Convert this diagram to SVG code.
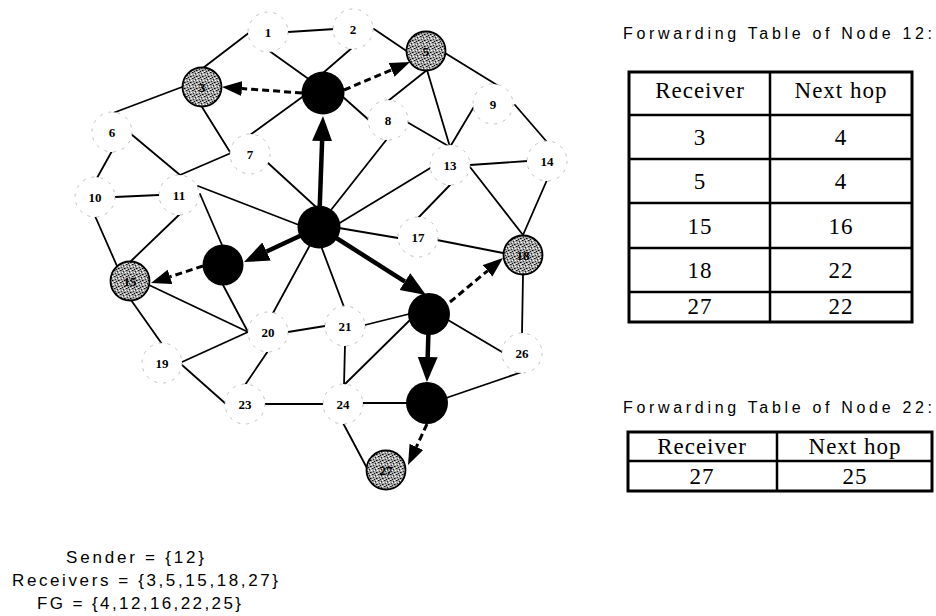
<svg xmlns="http://www.w3.org/2000/svg" width="936" height="616" viewBox="0 0 936 616">
  <style>
    .edge { stroke:#000; stroke-width:1.8; fill:none; stroke-linecap:round; }
    .route { stroke:#000; stroke-width:4.5; fill:none; marker-end:url(#head-solid); }
    .probe { stroke:#000; stroke-width:3; fill:none; stroke-dasharray:7 4; marker-end:url(#head-dash); }
    .plain circle { fill:#fff; stroke:#b8b8b8; stroke-width:0.9; stroke-dasharray:3 6; }
    .fwd circle { fill:#000; }
    .recv circle { fill:url(#speckle); stroke:#000; stroke-width:1.8; }
    .lbl { font-family:"Liberation Serif", serif; font-weight:bold; font-size:13px; text-anchor:middle; fill:#000; }
    .title { font-family:"Liberation Sans", sans-serif; font-size:16px; fill:#000; }
    .cell { font-family:"Liberation Serif", serif; font-size:23px; text-anchor:middle; fill:#000; letter-spacing:1px; }
    .grid { stroke:#000; stroke-width:2.5; fill:none; }
    .frame { stroke:#000; stroke-width:3; fill:none; }
    .note { font-family:"Liberation Sans", sans-serif; font-size:17px; fill:#000; }
  </style>
  <defs>
    <marker id="head-solid" viewBox="0 -11 27 22" refX="0" refY="0" markerWidth="27" markerHeight="22" markerUnits="userSpaceOnUse" orient="auto">
      <path d="M0,-10 L25,0 L0,10 Z" fill="#000"/>
    </marker>
    <marker id="head-dash" viewBox="0 -8 22 16" refX="0" refY="0" markerWidth="22" markerHeight="16" markerUnits="userSpaceOnUse" orient="auto">
      <path d="M0,-7.5 L20,0 L0,7.5 Z" fill="#000"/>
    </marker>
    <!-- mottled grey used for receiver nodes -->
    <pattern id="speckle" width="6" height="6" patternUnits="userSpaceOnUse">
      <rect width="6" height="6" fill="#a8a8a8"/>
      <rect x="0" y="0" width="1.5" height="1" fill="#111"/>
      <rect x="3" y="1" width="1" height="1.5" fill="#222"/>
      <rect x="4" y="4" width="1.5" height="1" fill="#000"/>
      <rect x="1" y="3" width="1" height="1" fill="#333"/>
      <rect x="2" y="5" width="1" height="1" fill="#111"/>
      <rect x="4" y="0" width="1" height="1" fill="#fff"/>
      <rect x="5" y="2" width="1" height="1" fill="#fff"/>
      <rect x="0" y="5" width="1" height="1" fill="#eee"/>
      <rect x="2" y="2" width="1" height="1" fill="#fff"/>
    </pattern>
  </defs>

  <!-- links and forwarding paths -->
  <g id="connectors">
    <path class="edge" d="M288,32 L335,29"/>
    <path class="edge" d="M203,68 L250,32"/>
    <path class="edge" d="M268,50 L310,80"/>
    <path class="edge" d="M353,47 L323,73"/>
    <path class="edge" d="M374,29 L408,52"/>
    <path class="edge" d="M182,87 L113,113"/>
    <path class="edge" d="M202,107 L230,152"/>
    <path class="edge" d="M250,135 L305,95"/>
    <path class="edge" d="M343,97 L370,121"/>
    <path class="edge" d="M427,70 L388,101"/>
    <path class="edge" d="M427,70 L450,147"/>
    <path class="edge" d="M445,53 L497,85"/>
    <path class="edge" d="M475,105 L450,147"/>
    <path class="edge" d="M515,105 L547,142"/>
    <path class="edge" d="M407,122 L450,147"/>
    <path class="edge" d="M470,165 L528,161"/>
    <path class="edge" d="M470,167 L523,235"/>
    <path class="edge" d="M547,180 L523,235"/>
    <path class="edge" d="M450,185 L418,218"/>
    <path class="edge" d="M432,167 L338,224"/>
    <path class="edge" d="M387,139 L331,210"/>
    <path class="edge" d="M268,163 L316,207"/>
    <path class="edge" d="M339,228 L398,238"/>
    <path class="edge" d="M437,240 L503,253"/>
    <path class="edge" d="M523,275 L522,334"/>
    <path class="edge" d="M448,320 L502,352"/>
    <path class="edge" d="M310,245 L273,313"/>
    <path class="edge" d="M321,246 L344,307"/>
    <path class="edge" d="M198,186 L299,225"/>
    <path class="edge" d="M200,194 L222,245"/>
    <path class="edge" d="M181,213 L130,262"/>
    <path class="edge" d="M115,197 L159,195"/>
    <path class="edge" d="M95,216 L117,266"/>
    <path class="edge" d="M112,151 L97,178"/>
    <path class="edge" d="M131,134 L180,175"/>
    <path class="edge" d="M231,153 L180,175"/>
    <path class="edge" d="M223,285 L248,332"/>
    <path class="edge" d="M149,285 L248,332"/>
    <path class="edge" d="M131,300 L162,344"/>
    <path class="edge" d="M182,362 L248,332"/>
    <path class="edge" d="M182,365 L226,404"/>
    <path class="edge" d="M288,332 L325,326"/>
    <path class="edge" d="M268,351 L245,385"/>
    <path class="edge" d="M345,345 L344,385"/>
    <path class="edge" d="M410,320 L344,385"/>
    <path class="edge" d="M365,325 L409,314"/>
    <path class="edge" d="M264,404 L324,404"/>
    <path class="edge" d="M362,403 L407,403"/>
    <path class="edge" d="M446,398 L522,372"/>
    <path class="edge" d="M343,423 L368,470"/>

    <!-- forwarding group tree (solid) -->
    <path class="route" d="M319,227 L322.1,141"/>
    <path class="route" d="M319,227 L266.6,251.5"/>
    <path class="route" d="M319,227 L404.9,281.6"/>
    <path class="route" d="M429,314 L427.7,357"/>

    <!-- delivery to receivers (dashed) -->
    <path class="probe" d="M302,93 L241.9,88.5"/>
    <path class="probe" d="M344,90 L391.6,69.8"/>
    <path class="probe" d="M203,266 L170,276.8"/>
    <path class="probe" d="M450,302 L487.6,270.8"/>
    <path class="probe" d="M427,424 L416.4,446.9"/>
  </g>

  <!-- ordinary nodes -->
  <g id="node-1" class="plain"><circle cx="268" cy="32" r="20"/><text class="lbl" x="268" y="37">1</text></g>
  <g id="node-2" class="plain"><circle cx="353" cy="29" r="20"/><text class="lbl" x="353" y="34">2</text></g>
  <g id="node-6" class="plain"><circle cx="112" cy="132" r="20"/><text class="lbl" x="112" y="137">6</text></g>
  <g id="node-7" class="plain"><circle cx="250" cy="154" r="20"/><text class="lbl" x="250" y="159">7</text></g>
  <g id="node-8" class="plain"><circle cx="388" cy="120" r="20"/><text class="lbl" x="388" y="125">8</text></g>
  <g id="node-9" class="plain"><circle cx="493" cy="104" r="20"/><text class="lbl" x="493" y="109">9</text></g>
  <g id="node-10" class="plain"><circle cx="95" cy="197" r="20"/><text class="lbl" x="95" y="202">10</text></g>
  <g id="node-11" class="plain"><circle cx="179" cy="195" r="20"/><text class="lbl" x="179" y="200">11</text></g>
  <g id="node-13" class="plain"><circle cx="450" cy="165" r="20"/><text class="lbl" x="450" y="170">13</text></g>
  <g id="node-14" class="plain"><circle cx="547" cy="161" r="20"/><text class="lbl" x="547" y="166">14</text></g>
  <g id="node-17" class="plain"><circle cx="418" cy="237" r="20"/><text class="lbl" x="418" y="242">17</text></g>
  <g id="node-19" class="plain"><circle cx="162" cy="363" r="20"/><text class="lbl" x="162" y="368">19</text></g>
  <g id="node-20" class="plain"><circle cx="268" cy="332" r="20"/><text class="lbl" x="268" y="337">20</text></g>
  <g id="node-21" class="plain"><circle cx="345" cy="326" r="20"/><text class="lbl" x="345" y="331">21</text></g>
  <g id="node-23" class="plain"><circle cx="245" cy="404" r="20"/><text class="lbl" x="245" y="409">23</text></g>
  <g id="node-24" class="plain"><circle cx="343" cy="404" r="20"/><text class="lbl" x="343" y="409">24</text></g>
  <g id="node-26" class="plain"><circle cx="522" cy="353" r="20"/><text class="lbl" x="522" y="358">26</text></g>

  <!-- forwarding group members -->
  <g id="node-4" class="fwd"><circle cx="323" cy="93" r="21.5"/></g>
  <g id="node-12" class="fwd"><circle cx="319" cy="227" r="21.5"/></g>
  <g id="node-16" class="fwd"><circle cx="223" cy="265" r="20.5"/></g>
  <g id="node-22" class="fwd"><circle cx="429" cy="314" r="21"/></g>
  <g id="node-25" class="fwd"><circle cx="427" cy="403" r="21"/></g>

  <!-- receivers -->
  <g id="node-3" class="recv"><circle cx="202" cy="87" r="19.5"/><text class="lbl" x="202" y="92">3</text></g>
  <g id="node-5" class="recv"><circle cx="426" cy="51" r="19.5"/><text class="lbl" x="426" y="56">5</text></g>
  <g id="node-15" class="recv"><circle cx="130" cy="281" r="19.5"/><text class="lbl" x="130" y="286">15</text></g>
  <g id="node-18" class="recv"><circle cx="523" cy="255" r="19.5"/><text class="lbl" x="523" y="260">18</text></g>
  <g id="node-27" class="recv"><circle cx="386" cy="470" r="19.5"/><text class="lbl" x="386" y="475">27</text></g>

  <!-- forwarding table of node 12 -->
  <g id="table-12">
    <text class="title" x="623" y="39" textLength="309" lengthAdjust="spacing">Forwarding Table of Node 12:</text>
    <rect class="frame" x="629" y="72" width="283" height="250"/>
    <path class="grid" d="M770,72 V322 M629,115 H912 M629,159 H912 M629,203 H912 M629,248 H912 M629,292 H912"/>
    <text class="cell" x="700" y="98">Receiver</text>
    <text class="cell" x="841" y="98">Next hop</text>
    <text class="cell" x="700" y="145">3</text>
    <text class="cell" x="841" y="145">4</text>
    <text class="cell" x="700" y="189">5</text>
    <text class="cell" x="841" y="189">4</text>
    <text class="cell" x="700" y="234">15</text>
    <text class="cell" x="841" y="234">16</text>
    <text class="cell" x="700" y="278">18</text>
    <text class="cell" x="841" y="278">22</text>
    <text class="cell" x="700" y="314">27</text>
    <text class="cell" x="841" y="314">22</text>
  </g>

  <!-- forwarding table of node 22 -->
  <g id="table-22">
    <text class="title" x="623" y="413" textLength="309" lengthAdjust="spacing">Forwarding Table of Node 22:</text>
    <rect class="frame" x="628" y="432" width="304" height="59"/>
    <path class="grid" d="M777,432 V491 M628,461 H932"/>
    <text class="cell" x="702" y="454">Receiver</text>
    <text class="cell" x="855" y="454">Next hop</text>
    <text class="cell" x="702" y="484">27</text>
    <text class="cell" x="855" y="484">25</text>
  </g>

  <!-- session membership -->
  <g id="legend">
    <text class="note" x="66" y="563" textLength="138" lengthAdjust="spacing">Sender = {12}</text>
    <text class="note" x="12" y="586" textLength="266" lengthAdjust="spacing">Receivers = {3,5,15,18,27}</text>
    <text class="note" x="37" y="609" textLength="204" lengthAdjust="spacing">FG = {4,12,16,22,25}</text>
  </g>
</svg>
